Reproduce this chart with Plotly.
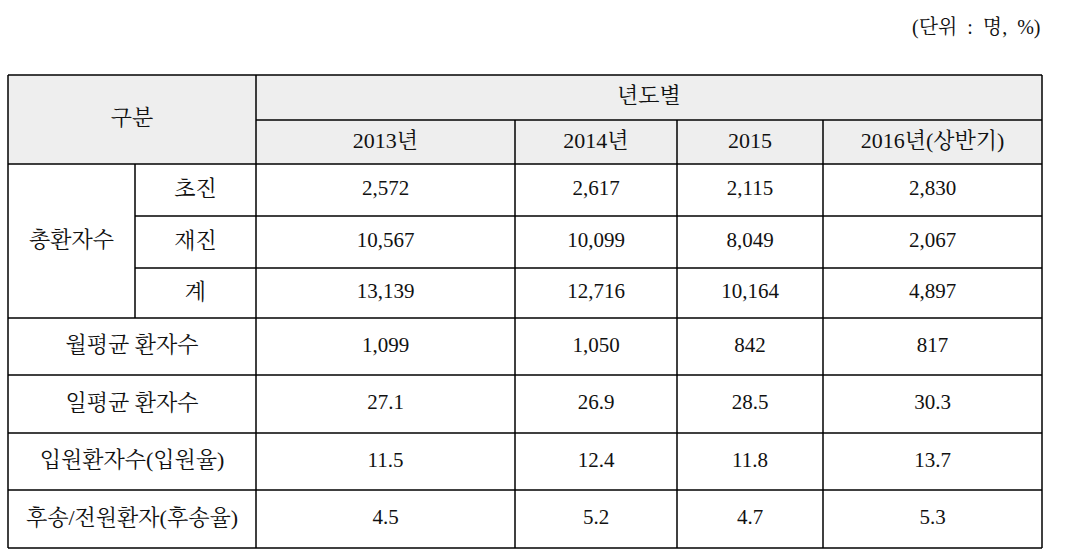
import plotly.graph_objects as go

YEARS = ["2013년", "2014년", "2015", "2016년(상반기)"]
ROW_LABELS = ["월평균 환자수", "일평균 환자수", "입원환자수(입원율)", "후송/전원환자(후송율)"]
SUB_LABELS = ["초진", "재진", "계"]
FIRST_VISIT = ["2,572", "2,617", "2,115", "2,830"]
REVISIT = ["10,567", "10,099", "8,049", "2,067"]
TOTAL = ["13,139", "12,716", "10,164", "4,897"]
MONTHLY_AVG = ["1,099", "1,050", "842", "817"]
DAILY_AVG = ["27.1", "26.9", "28.5", "30.3"]
ADMIT = ["11.5", "12.4", "11.8", "13.7"]
TRANSFER = ["4.5", "5.2", "4.7", "5.3"]

W, H = 1070, 555
COLS = [8, 135, 256, 515, 677, 823, 1042]   # column edges (px)
ROWS = [75, 120, 164, 216, 268, 318, 375, 433, 490, 548]  # row edges (px)
HEAD_BG = "#eeeeee"
INK = "#111111"
FONT = "Liberation Serif, Noto Serif CJK KR, Noto Sans CJK KR, serif"

fig = go.Figure()

# header background
fig.add_trace(go.Scatter(
    x=[COLS[0], COLS[-1], COLS[-1], COLS[0], COLS[0]],
    y=[ROWS[0], ROWS[0], ROWS[2], ROWS[2], ROWS[0]],
    fill="toself", fillcolor=HEAD_BG, line=dict(width=0),
    mode="lines", hoverinfo="skip", showlegend=False,
))

# grid lines: (x0, x1, y0, y1)
segs = []
for i, y in enumerate(ROWS):
    if i == 1:
        segs.append((COLS[2], COLS[-1], y, y))
    elif i in (3, 4):
        segs.append((COLS[1], COLS[-1], y, y))
    else:
        segs.append((COLS[0], COLS[-1], y, y))
segs.append((COLS[0], COLS[0], ROWS[0], ROWS[-1]))
segs.append((COLS[-1], COLS[-1], ROWS[0], ROWS[-1]))
segs.append((COLS[1], COLS[1], ROWS[2], ROWS[5]))
segs.append((COLS[2], COLS[2], ROWS[0], ROWS[-1]))
for c in COLS[3:-1]:
    segs.append((c, c, ROWS[1], ROWS[-1]))
lx, ly = [], []
for x0, x1, y0, y1 in segs:
    lx += [x0, x1, None]
    ly += [y0, y1, None]
fig.add_trace(go.Scatter(x=lx, y=ly, mode="lines",
                         line=dict(color="#000000", width=1.5),
                         hoverinfo="skip", showlegend=False))

# cell texts: labels (Korean) and numbers kept apart for sizing
lab_x, lab_y, lab_t = [], [], []
num_x, num_y, num_t = [], [], []
def cell(c0, c1, r0, r1, text, num=False):
    xs, ys, ts = (num_x, num_y, num_t) if num else (lab_x, lab_y, lab_t)
    xs.append((COLS[c0] + COLS[c1]) / 2)
    ys.append((ROWS[r0] + ROWS[r1]) / 2)
    ts.append(text)

cell(0, 2, 0, 2, "구분")
cell(2, 6, 0, 1, "년도별")
for j, yr in enumerate(YEARS):
    cell(2 + j, 3 + j, 1, 2, yr)
cell(0, 1, 2, 5, "총환자수")
for k, lab in enumerate(SUB_LABELS):
    cell(1, 2, 2 + k, 3 + k, lab)
for k, lab in enumerate(ROW_LABELS):
    cell(0, 2, 5 + k, 6 + k, lab)
for k, vals in enumerate([FIRST_VISIT, REVISIT, TOTAL, MONTHLY_AVG,
                          DAILY_AVG, ADMIT, TRANSFER]):
    for j, v in enumerate(vals):
        cell(2 + j, 3 + j, 2 + k, 3 + k, v, num=True)

fig.add_trace(go.Scatter(x=lab_x, y=lab_y, text=lab_t, mode="text",
                         textfont=dict(family=FONT, size=22, color=INK),
                         hoverinfo="skip", showlegend=False))
fig.add_trace(go.Scatter(x=num_x, y=num_y, text=num_t, mode="text",
                         textfont=dict(family=FONT, size=21, color=INK),
                         hoverinfo="skip", showlegend=False))

fig.add_annotation(x=1043, y=27, xref="x", yref="y",
                   text="(단위\u2002:\u2002명,\u2002%)",
                   showarrow=False, xanchor="right", yanchor="middle",
                   font=dict(family=FONT, size=20, color=INK))

fig.update_xaxes(range=[0, W], visible=False, fixedrange=True)
fig.update_yaxes(range=[H, 0], visible=False, fixedrange=True)
fig.update_layout(width=W, height=H, margin=dict(l=0, r=0, t=0, b=0),
                  paper_bgcolor="white", plot_bgcolor="white")

fig.write_html("out.html", config={"displayModeBar": False},
               post_script="document.body.style.margin='0';"
                           "document.body.style.overflow='hidden';")
